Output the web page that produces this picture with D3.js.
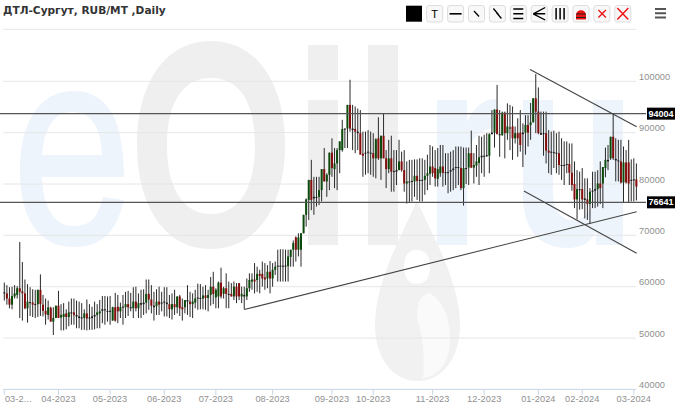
<!DOCTYPE html>
<html>
<head>
<meta charset="utf-8">
<script src="https://cdnjs.cloudflare.com/ajax/libs/d3/7.8.5/d3.min.js"></script>
<style>html,body{margin:0;padding:0;background:#fff;overflow:hidden}svg{display:block}</style>
</head>
<body>
<svg id="chart" width="680" height="408"></svg>
<script>
const chartTitle = "ДТЛ-Сургут, RUB/MT ,Daily";
const yTicks = [100000, 90000, 80000, 70000, 60000, 50000, 40000];
const monthLabels = ["03-2...", "04-2023", "05-2023", "06-2023", "07-2023", "08-2023", "09-2023", "10-2023", "11-2023", "12-2023", "01-2024", "02-2024", "03-2024"];
const monthStarts = [0, 21, 41, 62, 82, 104, 127, 143, 166, 186, 207, 224, 244];
const levelLabels = ["94004", "76641"];
const levelValues = [93700, 76430];
const trendFrom = [[93, 55560], [203.8, 102300], [201.4, 78640]];
const trendTo = [[245.1, 74600], [245.1, 91160], [245.1, 66500]];

// daily candles, thousand RUB/MT
const highs = [60.8,60.3,59.9,60,60.3,60.1,68.7,64.8,61.4,60.5,
59.9,59.5,59.4,59.4,62.4,58.4,57.7,57.3,56.1,56,
56.3,59.2,56.6,56.8,55.6,57.1,57.7,57.7,57.3,57.1,
56.8,55.6,57.5,56.6,56.1,57.1,56.6,57.4,58.2,58.2,
58.1,58.2,56.1,58.8,58.4,56.9,58.4,59,59.2,58.8,
59.9,60,58.7,59.4,59.5,61.4,61.4,60.3,59,59.5,
60,59,59.9,59.9,58.4,58.7,59.4,58.1,58.4,57.7,
57.4,60.3,59,58.7,59.4,60.6,60.5,60,60.3,59.4,
61.9,62.9,59.7,61,63.7,60,62.6,61,60.7,61,
60.7,60.7,60,60,61.6,62.6,62.6,64.6,63.9,63.3,
64.9,64.6,64.2,65,64.6,64.9,67.2,67.3,67.3,67.2,
67.2,67.2,69,69.8,70.4,70.4,74,77.2,80.8,84.7,
81.4,81.4,81.4,82.9,87,82.1,86.1,88.9,87,87,
88.3,92.5,90.8,95.4,100.3,95.4,95.1,94.7,94.4,90.2,
90.2,90.5,90.2,89.9,88.9,93,89.4,93.8,86.6,88.6,
89.4,86.6,86.6,88.6,86.3,86.6,84.4,84.7,84.7,84.8,
84.8,85,85,84.7,85.7,87.6,87.3,86.6,87,87.6,
87.6,86,86,86.3,86.6,87.3,87.3,87.3,87.1,87.1,
87.1,90.4,86,87.6,89.4,89.2,89.6,89.9,89.9,94.4,
94.5,99.3,94.4,94.1,94.1,95.7,95.4,95.1,91.2,92.8,
94.4,91.8,93.4,93.4,95.8,96.7,101.4,98.8,94.1,94.1,
94.1,90.5,90.2,90.4,89.9,90.2,88.9,88.3,88.3,87.9,
87.9,84.4,82.7,82.4,83.1,81.1,81.1,79.2,82.4,82.4,
82.7,84.4,83.3,87.1,87.6,89.2,93.8,88.9,88.6,88.6,
87.3,86.6,88.6,84.8,85,84];
const lows = [57.3,56.5,55.8,55.6,57.7,57.7,53.9,53.4,55.6,53,
54.3,54.1,53.9,54.1,54.3,54.2,52.6,53.6,53.2,50.6,
53.9,53.9,51.5,51.5,51.7,52.3,52.6,52.6,51.9,51.9,
51.6,51.6,51.5,51.6,51.6,51.7,51.9,51.9,52.9,52.6,
53.2,52.6,53.4,53.2,52.9,53.9,52.6,53.9,54.3,55.2,
53.9,55.2,53.9,53.9,54.5,54.8,55.5,54.8,53.4,54.5,
54.5,55.2,54.2,54.2,53.9,53.6,54.5,54.8,54.3,53.4,
54.8,54.5,54.1,53.9,55.8,55.5,55.6,55.6,55.5,55.2,
56.3,56.6,55.8,55.8,57.7,57.7,55.8,55.8,58.1,57.4,
56.8,57.4,56.8,55.6,57.4,59,59.4,58.7,59,58.7,
60,59.4,59.7,58.7,60,62.3,61,61,61,61,
61,63.9,63.9,64.9,65.9,63.9,70.4,71.7,73,74.9,
74,75.6,75.9,76.6,80.5,77.5,78.8,81.4,79.2,78.8,
82.1,86.3,87,87,90.2,86.6,86,86.6,86,81.4,
81.8,82.1,81.8,81.4,81.1,84.7,80.8,85,79.2,82.1,
78.5,78.5,79.8,82.7,82.4,78.5,76.2,76.4,76.6,77.5,
76.9,76.6,76.6,77.9,78.8,79.8,81.4,79.5,79.5,81.4,
79.5,79.8,78.2,78.5,78.8,79.2,79.8,78.8,75.8,80,
79.8,83.1,80.1,81.4,79.8,82.1,81.4,85.3,82.1,89.7,
87.1,89.7,85.3,89.4,85,88.6,86.6,84.7,87.9,85.3,
86.3,83.3,85.7,87.3,88.6,92,89.9,89.7,89.6,85.5,
84,82.1,81.8,83.1,82.1,81.8,80.8,79.8,82.1,79.8,
78.7,75.3,73.1,75,75.1,73.3,73,72.2,75.3,75.3,
75.6,76.1,75.3,81.3,82.7,84.7,84.7,80.5,80.5,80.1,
76.4,80.1,76.4,76.6,76.6,76.8];
const opens = [58.9,58.7,57.7,56.5,58.1,58.4,59.7,59.1,58.7,55.8,
57,56.9,56.6,56.6,59.4,56.5,55.3,54.5,55.9,53.2,
53.9,56.3,54,54.1,54.8,54.1,55,55,54.5,54.2,
54,53.9,54.8,53.8,53.9,54.2,54.5,54.8,55.3,55.6,
55.3,55.3,53.4,56,56.1,55.2,56,56,56.6,56,
55.8,57.1,55.8,56.8,56.6,56.9,58.6,57.5,56.3,56.2,
57.1,56.9,56.9,56.9,56.6,55.6,56.6,56,58.1,56,
56,57.4,57.1,56.6,56.9,57.7,57.8,57.7,58.3,57.8,
58.4,60,57.9,58.1,60.8,58.6,59.7,58.6,58.6,58.1,
60,60.7,58.1,58.4,58.1,59.7,61,61.4,61.3,62.5,
62.5,61.8,61.6,62.9,61.6,63.3,63.9,64.1,64,64.1,
64,65.8,67.2,69.6,67.2,67.2,70.4,74,76.9,80.8,
77.2,77.4,77.5,78.8,82.9,80.5,81.8,86.1,82.9,84,
86.6,86.6,90.7,90.8,95.4,90.8,90.7,90.2,89.9,85.9,
85.9,86.1,86.1,86,85,88.9,85,89.4,85,82.9,
85,82.5,82.4,82.7,84.4,82.7,80.1,80.5,80.5,80.5,
81.6,80.6,80.8,80.8,81.6,82,83.4,83.1,81,82.1,
83.4,82.3,82.2,82.4,82.7,83.1,83.3,83.1,79.2,83.1,
83.2,86,83.2,83.6,84.1,85.2,85.5,85.4,85.5,89.7,
90,94.5,89.7,89.5,93.9,89.9,91,91.2,88.9,89.9,
90,89.7,90,91.5,91.5,92,96.7,94.1,89.9,89.7,
89.9,86.5,86.1,86.2,86.1,86,83.7,83.6,83.7,83.9,
82.2,80,77,79,79,77.2,77,76.1,78.5,78.7,
79,80.1,80.1,83.1,84.7,85,89.2,84.9,84.6,84.4,
80.3,84.2,84.2,80.8,80.7,80.9];
const closes = [58.7,57.7,56.5,58.2,58.7,59.7,59,58.7,55.8,57.1,
56.8,56.5,56.5,59.4,56.6,55.3,54.6,56,53.2,53.9,
56.3,53.9,54.5,54.7,54.1,55,54.8,54.5,54.2,53.9,
53.8,54.8,53.8,54,54.2,54.5,55,55.2,55.6,55.4,
55.2,55.2,56,53.4,55.2,56,56.1,56.6,56,55.8,
57.1,55.8,56.8,56.5,56.9,58.6,57.5,56.3,56,57.1,
56.5,56.8,57.1,56.6,55.6,56.6,56,58.1,55.8,55.6,
57.4,57.1,56.6,57.1,57.7,57.9,57.7,58.3,57.8,58.4,
60,58.6,59.4,60.8,58.1,59.7,58.6,58.4,58.1,60,
58.1,58.1,58.6,58.1,59.7,61.3,61.4,61,62.5,62.1,
61.6,61.4,62.9,61.6,63.3,63.9,64.1,64,64.1,64,
65.9,67.2,68.5,67.2,69.6,70.4,74,77,80.8,76.9,
77.5,77.5,78.8,82.9,80.5,81.8,86.1,83.1,84,86.6,
88.3,90.7,90.8,95.4,90.8,90.5,90.2,89.9,85.7,85.5,
86.1,86.3,86,85,88.7,85,89.4,85,82.9,85,
82.4,82.4,82.7,84.4,82.7,80.1,80.5,80.4,80.6,81.6,
80.6,80.8,80.7,81.6,82.1,83.4,82.1,81.1,82.9,83.4,
82.2,82.2,82.3,82.7,83,83.3,83.1,79.2,83.1,83,
86,83.2,83.7,84.4,85.2,85.5,85.4,85.6,89.7,90,
94.5,89.7,89.5,93.9,89.9,91.2,90.8,88.9,89.9,88.9,
87.6,90,91.5,90,92,96.7,94.1,89.9,89.6,89.9,
86.5,86.1,86.3,86.1,86,83.7,83.5,83.7,83.9,82.2,
79.8,77,79,78.9,77,76.9,76.1,78.5,78.7,79,
80.1,79.2,83.3,84.7,84.4,89.2,85,84.6,84.4,80.3,
84.2,80.3,80.1,80.7,80.9,79.5];

const width = 680, height = 408;
const svg = d3.select("#chart");
const font = "'DejaVu Sans', sans-serif";
const axisFont = "'Liberation Sans', sans-serif";

const x = d3.scaleLinear().domain([0, highs.length - 1]).range([4.3, 636.4]);
const y = d3.scaleLinear().domain([100000, 40000]).range([81.3, 389.4]);

// ---- watermark logo (background picture of the source chart)
const wm = svg.append("g").attr("class", "watermark");
const wmBlue = "#edf4fb", wmGrey = "#efefef";
wm.append("path").attr("fill", wmBlue).attr("fill-rule", "evenodd")
  .attr("d", "M124 177 C124 120 108 91 73 91 C38 91 20 125 20 170 C20 218 38 247 74 247 C100 247 116 234 124 200 L103 197 C98 218 90 226 74 226 C54 226 43 208 42 177 Z M42 155 C44 128 54 112 72 112 C92 112 101 128 102 155 Z");
wm.append("path").attr("fill", wmGrey).attr("fill-rule", "evenodd")
  .attr("d", "M211 41 C258 41 285 85 285 145 C285 205 258 249 211 249 C164 249 137 205 137 145 C137 85 164 41 211 41 Z M211 78 C181 78 167 105 167 145 C167 185 181 214 211 214 C241 214 255 185 255 145 C255 105 241 78 211 78 Z");
wm.append("rect").attr("fill", wmGrey).attr("x", 308).attr("y", 45).attr("width", 30).attr("height", 35);
wm.append("rect").attr("fill", wmGrey).attr("x", 308).attr("y", 100).attr("width", 30).attr("height", 145);
wm.append("rect").attr("fill", wmGrey).attr("x", 368).attr("y", 45).attr("width", 30).attr("height", 200);
wm.append("path").attr("fill", wmBlue)
  .attr("d", "M437 100 H467 V122 C474 106 484 99 497 99 V128 C480 128 467 140 467 165 V245 H437 Z");
wm.append("path").attr("fill", wmBlue)
  .attr("d", "M523 100 H553 V190 C553 210 560 220 573 220 C586 220 593 210 593 190 V100 H623 V245 H596 V232 C590 243 580 248 568 248 C538 248 523 228 523 195 Z");
wm.append("path").attr("fill", "#f1f1f1").attr("fill-rule", "evenodd")
  .attr("d", "M417 200 C430 232 460 280 460 325 C460 358 442 381 418 381 C393 381 375 358 375 325 C375 280 404 232 417 200 Z M417 250 C407 250 404 258 404 267 C404 277 408 284 417 284 C426 284 430 277 430 267 C430 258 427 250 417 250 Z");
wm.append("path").attr("fill", "#fafafa")
  .attr("d", "M429 293 C444 300 450 320 450 340 C450 360 440 376 423 378 C425 360 423 340 419 325 C415 312 417 296 429 293 Z");

// ---- frame and grid
const gridColor = "#e6e6e6";
svg.append("line").attr("x1", 3.3).attr("x2", 636).attr("y1", 29.3).attr("y2", 29.3)
  .attr("stroke", gridColor);
svg.append("g").selectAll("line").data(yTicks).join("line")
  .attr("x1", 3.3).attr("x2", 636)
  .attr("y1", d => y(d)).attr("y2", d => y(d))
  .attr("stroke", gridColor).attr("stroke-width", 1);

svg.append("g").selectAll("text").data(yTicks).join("text")
  .attr("x", 639).attr("y", d => y(d) - 4.5)
  .attr("dominant-baseline", "central")
  .attr("font-family", axisFont).attr("font-size", 9.2).attr("letter-spacing", 0.1).attr("fill", "#8f8f8f")
  .text(d => d);

// ---- x axis
const axisColor = "#c9d7e6";
svg.append("line").attr("x1", 3.3).attr("x2", 636).attr("y1", y(40000)).attr("y2", y(40000))
  .attr("stroke", axisColor);
const xt = svg.append("g").selectAll("g").data(monthStarts).join("g");
xt.append("line")
  .attr("x1", d => x(d)).attr("x2", d => x(d))
  .attr("y1", y(40000)).attr("y2", y(40000) + 5.5)
  .attr("stroke", axisColor);
xt.append("text")
  .attr("x", (d, i) => i === 0 ? x(d) + 0.6 : x(d))
  .attr("y", 399)
  .attr("text-anchor", (d, i) => i === 0 ? "start" : "middle")
  .attr("dominant-baseline", "central")
  .attr("font-family", axisFont).attr("font-size", 9.2).attr("letter-spacing", 0.1).attr("fill", "#8f8f8f")
  .text((d, i) => monthLabels[i]);

// ---- candles
const candles = highs.map((h, i) => ({ i, h: h * 1000, l: lows[i] * 1000, o: opens[i] * 1000, c: closes[i] * 1000 }));
const bodyW = 2;
svg.append("g").selectAll("line").data(candles).join("line")
  .attr("x1", d => x(d.i)).attr("x2", d => x(d.i))
  .attr("y1", d => y(d.h)).attr("y2", d => y(d.l))
  .attr("stroke", "#2a2a2a").attr("stroke-width", 1);
svg.append("g").selectAll("rect").data(candles).join("rect")
  .attr("x", d => x(d.i) - bodyW / 2)
  .attr("width", bodyW)
  .attr("y", d => y(Math.max(d.o, d.c)))
  .attr("height", d => Math.max(1, Math.abs(y(d.o) - y(d.c))))
  .attr("fill", d => Math.abs(d.o - d.c) < 400 ? "#1a1a1a" : (d.c > d.o ? "#0b4a0b" : "#860d0d"));

// ---- horizontal levels
const lev = svg.append("g");
lev.selectAll("line").data(levelValues).join("line")
  .attr("x1", 0).attr("x2", 646)
  .attr("y1", d => y(d)).attr("y2", d => y(d))
  .attr("stroke", "#555").attr("stroke-width", 1.1);
lev.selectAll("rect").data(levelValues).join("rect")
  .attr("x", 647).attr("width", 28)
  .attr("y", d => y(d) - 6).attr("height", 12)
  .attr("fill", "#000");
lev.selectAll("text").data(levelValues).join("text")
  .attr("x", 661).attr("y", d => y(d))
  .attr("text-anchor", "middle").attr("dominant-baseline", "central")
  .attr("font-family", axisFont).attr("font-weight", "bold").attr("font-size", 9).attr("fill", "#fff")
  .text((d, i) => levelLabels[i]);

// ---- trend lines
svg.append("g").selectAll("line").data(trendFrom).join("line")
  .attr("x1", d => x(d[0])).attr("y1", d => y(d[1]))
  .attr("x2", (d, i) => x(trendTo[i][0])).attr("y2", (d, i) => y(trendTo[i][1]))
  .attr("stroke", "#444").attr("stroke-width", 1.1);

// ---- title
svg.append("text").attr("x", 3).attr("y", 9.5)
  .attr("dominant-baseline", "central")
  .attr("font-family", font).attr("font-size", 10.6).attr("font-weight", 600).attr("fill", "#333")
  .text(chartTitle);

// ---- toolbar
const tb = svg.append("g");
tb.append("rect").attr("x", 406).attr("y", 5.7).attr("width", 16).attr("height", 16).attr("fill", "#000");
const btnX = d3.range(10).map(k => 426.7 + k * 20.9);
tb.selectAll("rect.btn").data(btnX).join("rect").attr("class", "btn")
  .attr("x", d => d).attr("y", 5.5).attr("width", 16).attr("height", 16.5).attr("rx", 2.5)
  .attr("fill", "#f8f8f8").attr("stroke", "#dddddd");
const ic = (k, d, color, w) => tb.append("path").attr("d", d)
  .attr("transform", `translate(${btnX[k]},5.5)`)
  .attr("fill", "none").attr("stroke", color || "#000").attr("stroke-width", w || 1.4);
tb.append("text").attr("x", btnX[0] + 8).attr("y", 14.3)
  .attr("text-anchor", "middle").attr("dominant-baseline", "central")
  .attr("font-family", axisFont).attr("font-size", 11).attr("fill", "#000").text("T");
ic(1, "M2 8.3 H14", "#000", 1.6);
ic(2, "M5.5 5.5 L10.5 11", "#000", 1.3);
ic(3, "M4 3 L9 9 M7 7 L12 13", "#000", 1.3);
ic(4, "M3 3.5 H13 M3 8.3 H13 M3 13 H13", "#000", 1.4);
ic(5, "M2 8.3 L14 2 M2 8.3 H14 M2 8.3 L14 14.5", "#000", 1.4);
ic(6, "M4 2.5 V14 M8 2.5 V14 M12 2.5 V14", "#000", 1.5);
tb.append("path").attr("transform", `translate(${btnX[7]},5.5)`)
  .attr("d", "M3 14 V10 C3 3 13 3 13 10 V14 Z").attr("fill", "#ee1111");
ic(7, "M3 8.5 H13 M3 12 H13", "#222", 1);
ic(8, "M4.5 4.5 L12 12 M12 4.5 L4.5 12", "#ee1111", 1.3);
ic(9, "M2.5 2.5 L13.5 14 M13.5 2.5 L2.5 14", "#ee1111", 1.4);
tb.append("path").attr("d", "M655 9 H666 M655 13.2 H666 M655 17.4 H666")
  .attr("stroke", "#555").attr("stroke-width", 2).attr("fill", "none");
</script>
</body>
</html>
